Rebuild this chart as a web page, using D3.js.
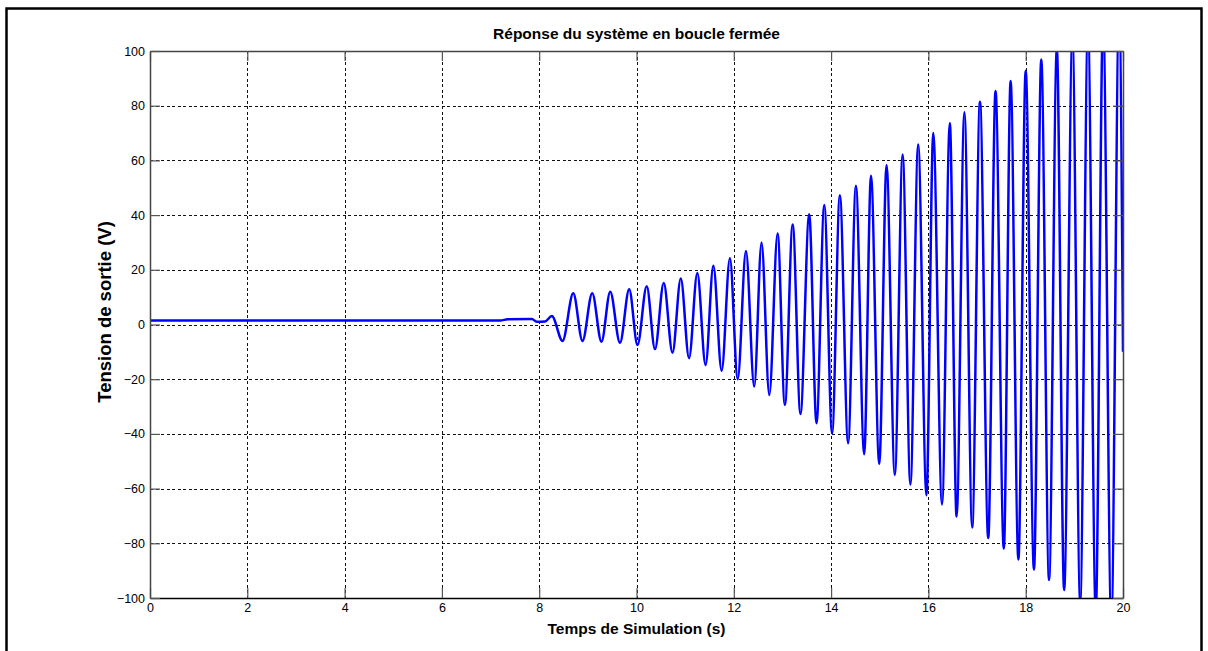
<!DOCTYPE html>
<html>
<head>
<meta charset="utf-8">
<script src="https://cdn.jsdelivr.net/npm/d3@7"></script>
<style>
  html, body { margin: 0; padding: 0; background: #fff; }
  svg { display: block; }
  text { font-family: "Liberation Sans", Arial, sans-serif; fill: #000; }
</style>
</head>
<body>
<script>
// ---- Data ----
const chartTitle = "Réponse du système en boucle fermée";
const xLabel = "Temps de Simulation (s)";
const yLabel = "Tension de sortie (V)";
const xTicks = [0, 2, 4, 6, 8, 10, 12, 14, 16, 18, 20];
const yTicks = [-100, -80, -60, -40, -20, 0, 20, 40, 60, 80, 100];

// time (s) of each sampled point / extremum
const timeS = [
  0, 7.2, 7.35, 7.85, 7.95, 8.12, 8.26,
  8.48, 8.70, 8.89, 9.09, 9.28, 9.46, 9.66, 9.85, 10.02, 10.21,
  10.38, 10.56, 10.74, 10.91, 11.08, 11.25, 11.42, 11.58, 11.75, 11.92,
  12.08, 12.25, 12.42, 12.57, 12.73, 12.90, 13.05, 13.21, 13.37, 13.55,
  13.70, 13.86, 14.02, 14.18, 14.35, 14.51, 14.68, 14.82, 14.99, 15.14,
  15.31, 15.47, 15.63, 15.79, 15.96, 16.10, 16.28, 16.44, 16.58, 16.74,
  16.90, 17.06, 17.23, 17.38, 17.55, 17.69, 17.85, 18.00, 18.17, 18.32,
  18.48, 18.64, 18.79, 18.96, 19.12, 19.28, 19.44, 19.59, 19.76, 19.92,
  20.0
];
// output voltage (V) at each of those times
const tensionV = [
  1.5, 1.5, 1.9, 2.0, 1.0, 1.1, 3.1,
  -6.0, 11.4, -6.0, 11.4, -6.3, 12.0, -6.7, 12.9, -7.5, 14.0,
  -9.0, 15.2, -10.3, 16.8, -12.3, 18.8, -14.8, 21.5, -16.9, 24.2,
  -20.0, 26.9, -22.7, 30.0, -25.8, 33.3, -29.4, 36.6, -32.7, 40.3,
  -36.1, 43.7, -39.8, 47.3, -43.4, 50.7, -47.4, 54.4, -51.0, 58.3,
  -55.0, 62.2, -58.5, 65.8, -62.4, 70.0, -65.8, 73.6, -70.2, 77.6,
  -74.2, 81.4, -78.1, 85.4, -81.9, 89.0, -85.9, 92.8, -89.6, 96.9,
  -93.4, 100.8, -97.1, 104.5, -101, 108.5, -105, 112, -109, 116,
  -10
];

// ---- Layout ----
const W = 1208, H = 651;
const plot = { left: 150, right: 1123, top: 51, bottom: 598 };

const svg = d3.select("body").append("svg")
  .attr("width", W).attr("height", H);

// outer figure border (bottom edge lies beyond the picture)
svg.append("path")
  .attr("d", `M6.5,${H + 5} L6.5,8.5 L1201.5,8.5 L1201.5,${H + 5}`)
  .attr("fill", "none").attr("stroke", "#000").attr("stroke-width", 2.5);

const x = d3.scaleLinear().domain([0, 20]).range([plot.left, plot.right]);
const y = d3.scaleLinear().domain([-100, 100]).range([plot.bottom, plot.top]);

// grid
const grid = svg.append("g").attr("stroke", "#111").attr("stroke-width", 1)
  .attr("stroke-dasharray", "3,2.5").attr("shape-rendering", "crispEdges");
grid.selectAll("line.gx").data(xTicks.filter(d => d > 0 && d < 20)).join("line")
  .attr("class", "gx")
  .attr("x1", d => Math.round(x(d)) + 0.5).attr("x2", d => Math.round(x(d)) + 0.5)
  .attr("y1", plot.top).attr("y2", plot.bottom);
grid.selectAll("line.gy").data(yTicks.filter(d => d > -100 && d < 100)).join("line")
  .attr("class", "gy")
  .attr("y1", d => Math.round(y(d)) + 0.5).attr("y2", d => Math.round(y(d)) + 0.5)
  .attr("x1", plot.left).attr("x2", plot.right);

// clip
svg.append("clipPath").attr("id", "clip").append("rect")
  .attr("x", plot.left).attr("y", plot.top)
  .attr("width", plot.right - plot.left).attr("height", plot.bottom - plot.top);

const series = timeS.map((t, i) => [t, tensionV[i]]);
const line = d3.line().x(d => x(d[0])).y(d => y(d[1])).curve(d3.curveMonotoneX);
svg.append("path")
  .datum(series)
  .attr("clip-path", "url(#clip)")
  .attr("fill", "none").attr("stroke", "#0000ff")
  .attr("stroke-width", 2.5).attr("stroke-linejoin", "round")
  .attr("d", line);

// axes (MATLAB style, inward ticks on all sides)
const tickLen = 10;
const fmt = d3.format("d");
const axB = svg.append("g").attr("transform", `translate(0,${plot.bottom})`)
  .call(d3.axisBottom(x).tickValues(xTicks).tickFormat(fmt).tickSizeInner(-tickLen).tickSizeOuter(0).tickPadding(5));
const axT = svg.append("g").attr("transform", `translate(0,${plot.top})`)
  .call(d3.axisTop(x).tickValues(xTicks).tickFormat("").tickSizeInner(-tickLen).tickSizeOuter(0));
const axL = svg.append("g").attr("transform", `translate(${plot.left},0)`)
  .call(d3.axisLeft(y).tickValues(yTicks).tickFormat(fmt).tickSizeInner(-tickLen).tickSizeOuter(0).tickPadding(5));
const axR = svg.append("g").attr("transform", `translate(${plot.right},0)`)
  .call(d3.axisRight(y).tickValues(yTicks).tickFormat("").tickSizeInner(-tickLen).tickSizeOuter(0));

[axB, axT, axL, axR].forEach(a => {
  a.selectAll(".domain").attr("stroke", "#444").attr("stroke-width", 1.5);
  a.selectAll(".tick line").attr("stroke", "#555").attr("stroke-width", 1.2);
  a.selectAll("text").attr("font-size", 12.5).attr("fill", "#111")
    .attr("font-family", "Liberation Sans, Arial, sans-serif");
});
axB.select(".domain").attr("stroke", "#000");

// titles
svg.append("text").attr("x", (plot.left + plot.right) / 2).attr("y", 39)
  .attr("text-anchor", "middle").attr("font-weight", "bold").attr("font-size", 15.5)
  .text(chartTitle);
svg.append("text").attr("x", (plot.left + plot.right) / 2).attr("y", 634)
  .attr("text-anchor", "middle").attr("font-weight", "bold").attr("font-size", 15.5)
  .text(xLabel);
svg.append("text")
  .attr("transform", `translate(111,312) rotate(-90)`)
  .attr("text-anchor", "middle").attr("font-weight", "bold").attr("font-size", 18.5)
  .text(yLabel);
</script>
</body>
</html>
